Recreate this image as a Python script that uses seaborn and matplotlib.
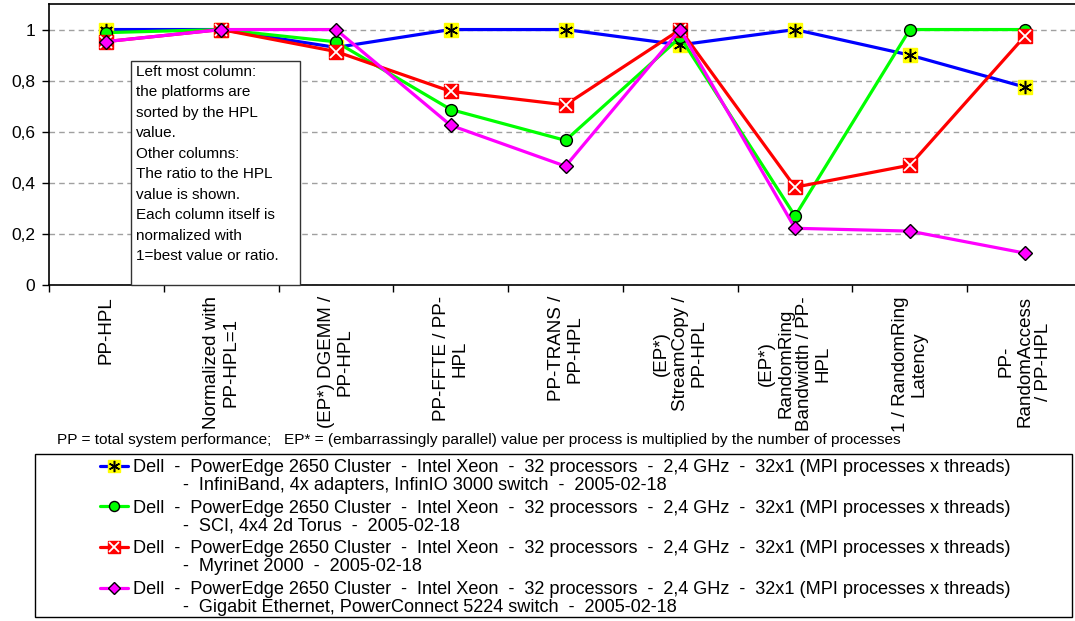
import matplotlib
matplotlib.use("Agg")
import matplotlib.pyplot as plt
from matplotlib.patches import Rectangle
from matplotlib.lines import Line2D
from matplotlib.legend_handler import HandlerTuple
import seaborn as sns
import numpy as np
import pandas as pd

categories = [
    "PP-HPL",
    "Normalized with\nPP-HPL=1",
    "(EP*) DGEMM /\nPP-HPL",
    "PP-FFTE / PP-\nHPL",
    "PP-TRANS /\nPP-HPL",
    "(EP*)\nStreamCopy /\nPP-HPL",
    "(EP*)\nRandomRing\nBandwidth / PP-\nHPL",
    "1 / RandomRing\nLatency",
    "PP-\nRandomAccess\n/ PP-HPL",
]

infiniband = [1.0, 1.0, 0.93, 1.0, 1.0, 0.94, 1.0, 0.90, 0.775]
sci = [0.988, 1.0, 0.952, 0.687, 0.566, 0.97, 0.27, 1.0, 1.0]
myrinet = [0.953, 1.0, 0.914, 0.758, 0.705, 1.0, 0.383, 0.469, 0.973]
gigabit = [0.953, 1.0, 1.0, 0.625, 0.465, 1.0, 0.222, 0.211, 0.125]

yticks = [0, 0.2, 0.4, 0.6, 0.8, 1.0]
ytick_labels = ["0", "0,2", "0,4", "0,6", "0,8", "1"]

head = "Dell  -  PowerEdge 2650 Cluster  -  Intel Xeon  -  32 processors  -  2,4 GHz  -  32x1 (MPI processes x threads)"
second_lines = [
    "-  InfiniBand, 4x adapters, InfinIO 3000 switch  -  2005-02-18",
    "-  SCI, 4x4 2d Torus  -  2005-02-18",
    "-  Myrinet 2000  -  2005-02-18",
    "-  Gigabit Ethernet, PowerConnect 5224 switch  -  2005-02-18",
]

footnote = ("PP = total system performance;   EP* = (embarrassingly parallel) value per process "
            "is multiplied by the number of processes")
note = ("Left most column:\nthe platforms are\nsorted by the HPL\nvalue.\nOther columns:\n"
        "The ratio to the HPL\nvalue is shown.\nEach column itself is\nnormalized with\n1=best value or ratio.")

sns.set_theme(style="white")
plt.rcParams["font.family"] = ["Liberation Sans", "DejaVu Sans"]
plt.rcParams["text.color"] = "black"
plt.rcParams["axes.labelcolor"] = "black"
plt.rcParams["xtick.color"] = "black"
plt.rcParams["ytick.color"] = "black"

W, H = 1075, 621
fig = plt.figure(figsize=(W / 100, H / 100), dpi=100)
def fx(px): return px / W
def fy(py): return 1 - py / H

ax_left, ax_right, ax_top, ax_bot = 49, 1082, 4, 285
ax = fig.add_axes([fx(ax_left), fy(ax_bot), fx(ax_right - ax_left), (ax_bot - ax_top) / H])

pos = np.arange(len(categories))

styles = [
    dict(vals=infiniband, color="#0000FF", marker="s", mfc="#FFFF00", mec="#FFFF00", ms=9.5,
         over=dict(marker=(6, 2, 0), color="black", ms=9.5, mew=1.1)),
    dict(vals=sci, color="#00FF00", marker="o", mfc="#00FF00", mec="black", ms=8.5, over=None),
    dict(vals=myrinet, color="#FF0000", marker="s", mfc="#FF0000", mec="#FF0000", ms=9.5,
         over=dict(marker="x", color="white", ms=8, mew=1.3)),
    dict(vals=gigabit, color="#FF00FF", marker="D", mfc="#FF00FF", mec="black", ms=7, over=None),
]

handles = []
for st in styles:
    df = pd.DataFrame({"pos": pos, "value": st["vals"]})
    sns.lineplot(data=df, x="pos", y="value", ax=ax, color=st["color"], linewidth=2.3,
                 marker=st["marker"], markerfacecolor=st["mfc"], markeredgecolor=st["mec"],
                 markersize=st["ms"], markeredgewidth=1.0, sort=False, legend=False)
    h1 = Line2D([], [], color=st["color"], linewidth=2.3, marker=st["marker"],
                markerfacecolor=st["mfc"], markeredgecolor=st["mec"], markersize=st["ms"] * 0.85,
                markeredgewidth=1.0)
    if st["over"] is not None:
        o = st["over"]
        sns.lineplot(data=df, x="pos", y="value", ax=ax, linestyle="none", marker=o["marker"],
                     color=o["color"], markeredgecolor=o["color"], markersize=o["ms"],
                     markeredgewidth=o["mew"], sort=False, legend=False)
        h2 = Line2D([], [], linestyle="none", marker=o["marker"], color=o["color"],
                    markeredgecolor=o["color"], markersize=o["ms"] * 0.85, markeredgewidth=o["mew"])
        handles.append((h1, h2))
    else:
        handles.append((h1,))

ax.set_xlim(-0.5, len(categories) - 0.5)
ax.set_ylim(0, 1.1)
ax.set_xlabel("")
ax.set_ylabel("")
ax.set_yticks(yticks)
ax.set_yticklabels(ytick_labels, fontsize=12.5)
ax.set_xticks(pos)
ax.set_xticklabels(categories, rotation=90, fontsize=13.5, ha="center", va="top",
                   multialignment="center", linespacing=1.15)
ax.set_xticks(np.arange(-0.5, len(categories)), minor=True)
ax.tick_params(axis="x", which="major", length=0, pad=8)
ax.tick_params(axis="x", which="minor", length=5, width=1, color="black", direction="out", bottom=True)
ax.tick_params(axis="y", which="major", length=5, width=1, color="black", direction="out", left=True, pad=5)
for lbl in ax.get_yticklabels() + ax.get_xticklabels():
    lbl.set_color("black")

ax.yaxis.grid(True, color="#A0A0A0", linestyle=(0, (4, 3)), linewidth=1.0)
ax.xaxis.grid(False)
ax.set_axisbelow(True)
for side in ["left", "bottom", "top"]:
    ax.spines[side].set_visible(True)
    ax.spines[side].set_color("black")
    ax.spines[side].set_linewidth(1.2)
ax.spines["right"].set_visible(False)
ax.set_facecolor("white")

# note box
fig.add_artist(Rectangle((fx(131), fy(285)), fx(300 - 131), (285 - 61) / H, transform=fig.transFigure,
                         facecolor="white", edgecolor="#333333", linewidth=1.0, zorder=3))
fig.text(fx(136), fy(65), note, ha="left", va="top", fontsize=11, linespacing=1.59,
         color="black", zorder=4)

# footnote
fig.text(fx(57), fy(440), footnote, ha="left", va="center", fontsize=11.1, color="black")

# legend frame
fig.add_artist(Rectangle((fx(35), fy(617)), fx(1072 - 35), (617 - 454) / H, transform=fig.transFigure,
                         facecolor="white", edgecolor="black", linewidth=1.0, zorder=1))
leg = fig.legend(handles, [head] * 4, handler_map={tuple: HandlerTuple(ndivide=1)},
                 loc="upper left", bbox_to_anchor=(fx(100), fy(459)), frameon=False,
                 fontsize=13.1, handlelength=1.55, handletextpad=0.25, labelspacing=1.3,
                 borderaxespad=0, borderpad=0, labelcolor="black")
leg.set_zorder(2)

fig.canvas.draw()
inv = fig.transFigure.inverted()
for t, s2 in zip(leg.get_texts(), second_lines):
    bb = t.get_window_extent()
    x0, y0 = inv.transform((bb.x0 + 50, bb.y0 - 1))
    fig.text(x0, y0, s2, ha="left", va="top", fontsize=13.1, color="black", zorder=3)

fig.savefig("out.png", dpi=100, facecolor="white")
